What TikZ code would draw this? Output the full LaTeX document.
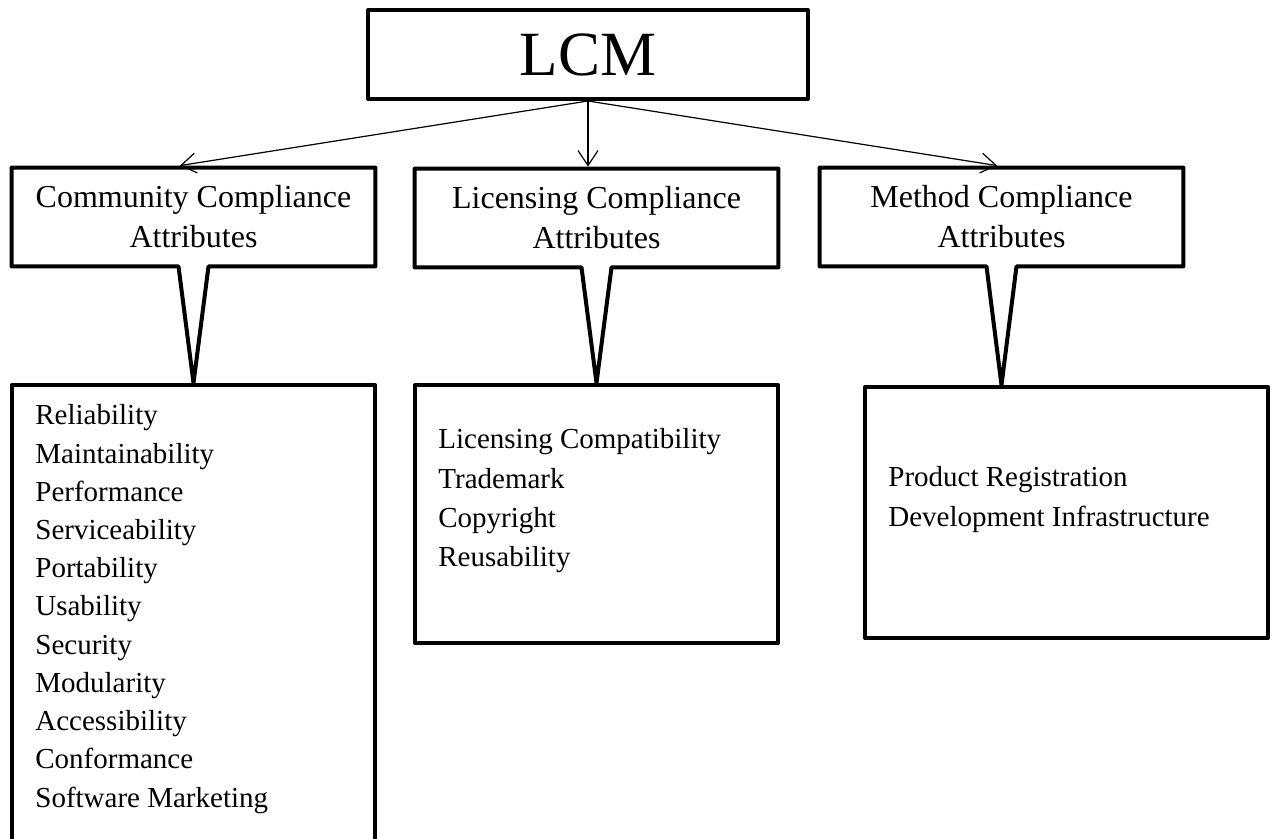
\documentclass[tikz,border=0pt]{standalone}
\usepackage{fontspec}
\setmainfont{Liberation Serif}
\usetikzlibrary{arrows.meta,calc}
\begin{document}
\begin{tikzpicture}[x=0.5pt,y=-0.5pt,
  box/.style={draw, line width=2pt, line join=round, rectangle, inner sep=0pt},
  hdr/.style={inner sep=0pt, minimum width=181.5pt, minimum height=49pt, align=center, font=\fontsize{16}{20}\selectfont},
  item/.style={anchor=base west, inner sep=0pt, font=\fontsize{14.5}{18}\selectfont},
  link/.style={line width=0.6pt, -{Straight Barb[length=7.5pt,width=10pt]}},
  callout/.style={line width=2pt, line join=round}
]
\fill[white] (0,0) rectangle (1276,839);
\clip (0,0) rectangle (1276,839);

% top node
\node[box, minimum width=220pt, minimum height=44.5pt, font=\fontsize{31.5}{36}\selectfont] (lcm) at (588,54.5) {LCM};

% header nodes
\node[hdr] (h1) at (193.5,217) {Community Compliance\\Attributes};
\node[hdr] (h2) at (596.5,218) {Licensing Compliance\\Attributes};
\node[hdr] (h3) at (1001.5,217) {Method Compliance\\Attributes};

% list boxes
\node[box, minimum width=181.5pt, minimum height=232.5pt] (l1) at (193.5,617.5) {};
\node[box, minimum width=181.5pt, minimum height=129pt] (l2) at (596.5,514) {};
\node[box, minimum width=201.5pt, minimum height=125.5pt] (l3) at (1066.5,512.5) {};

% callouts
\foreach \h/\l in {h1/l1,h2/l2,h3/l3}{
  \draw[callout] (\h.north west) -- (\h.north east) -- (\h.south east)
    -- ($(\h.south)+(15,0)$) -- (\h.south |- \l.north)
    -- ($(\h.south)+(-15,0)$) -- (\h.south west) -- cycle;
}

% arrows
\draw[link] (lcm.south) -- ($(h1.north)+(-13.5,-2)$);
\draw[link] (lcm.south) -- ($(lcm.south |- h2.north)+(0,-2)$);
\draw[link] (lcm.south) -- ($(h3.north)+(-4.5,-2)$);

% items
\foreach \t [count=\i from 0] in {Reliability,Maintainability,Performance,Serviceability,Portability,Usability,Security,Modularity,Accessibility,Conformance,Software Marketing}
  \node[item] (c\i) at (35,{425+38.2*\i}) {\t};
\foreach \t [count=\i from 0] in {Licensing Compatibility,Trademark,Copyright,Reusability}
  \node[item] (g\i) at (438,{449+39.3*\i}) {\t};
\foreach \t [count=\i from 0] in {Product Registration,Development Infrastructure}
  \node[item] (m\i) at (888,{487+40*\i}) {\t};
\end{tikzpicture}
\end{document}
